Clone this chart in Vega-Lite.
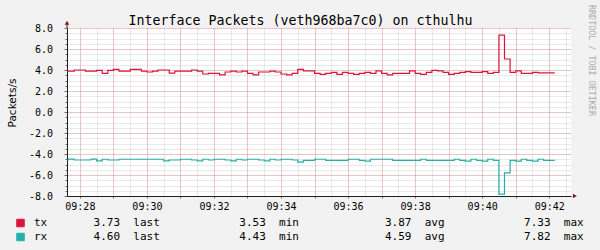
{
  "$schema": "https://vega.github.io/schema/vega-lite/v6.json",
  "width": 504,
  "height": 168,
  "autosize": {"type": "none"},
  "padding": {"left": 67, "top": 28, "right": 29, "bottom": 54},
  "background": "#F2F2F2",
  "config": {"view": {"fill": "#FFFFFF", "stroke": null}},
  "data": {"values": [
    {"t": 34050, "tx": 3.90, "rx": -4.57},
    {"t": 34060, "tx": 3.90, "rx": -4.48},
    {"t": 34070, "tx": 4.00, "rx": -4.57},
    {"t": 34080, "tx": 4.00, "rx": -4.57},
    {"t": 34090, "tx": 3.90, "rx": -4.57},
    {"t": 34100, "tx": 3.90, "rx": -4.48},
    {"t": 34110, "tx": 3.97, "rx": -4.65},
    {"t": 34120, "tx": 3.68, "rx": -4.50},
    {"t": 34130, "tx": 3.97, "rx": -4.57},
    {"t": 34140, "tx": 4.06, "rx": -4.57},
    {"t": 34150, "tx": 3.90, "rx": -4.50},
    {"t": 34160, "tx": 3.90, "rx": -4.50},
    {"t": 34170, "tx": 4.06, "rx": -4.50},
    {"t": 34180, "tx": 4.06, "rx": -4.50},
    {"t": 34190, "tx": 3.90, "rx": -4.50},
    {"t": 34200, "tx": 3.81, "rx": -4.50},
    {"t": 34210, "tx": 3.90, "rx": -4.50},
    {"t": 34220, "tx": 4.00, "rx": -4.50},
    {"t": 34230, "tx": 4.00, "rx": -4.65},
    {"t": 34240, "tx": 3.70, "rx": -4.57},
    {"t": 34250, "tx": 3.90, "rx": -4.57},
    {"t": 34260, "tx": 3.90, "rx": -4.50},
    {"t": 34270, "tx": 3.90, "rx": -4.50},
    {"t": 34280, "tx": 4.00, "rx": -4.57},
    {"t": 34290, "tx": 3.90, "rx": -4.65},
    {"t": 34300, "tx": 3.62, "rx": -4.50},
    {"t": 34310, "tx": 3.68, "rx": -4.57},
    {"t": 34320, "tx": 3.68, "rx": -4.50},
    {"t": 34330, "tx": 3.53, "rx": -4.50},
    {"t": 34340, "tx": 3.81, "rx": -4.57},
    {"t": 34350, "tx": 3.90, "rx": -4.65},
    {"t": 34360, "tx": 3.81, "rx": -4.50},
    {"t": 34370, "tx": 3.90, "rx": -4.57},
    {"t": 34380, "tx": 3.68, "rx": -4.50},
    {"t": 34390, "tx": 3.53, "rx": -4.50},
    {"t": 34400, "tx": 3.81, "rx": -4.57},
    {"t": 34410, "tx": 3.81, "rx": -4.65},
    {"t": 34420, "tx": 3.90, "rx": -4.50},
    {"t": 34430, "tx": 3.81, "rx": -4.57},
    {"t": 34440, "tx": 3.62, "rx": -4.50},
    {"t": 34450, "tx": 3.53, "rx": -4.50},
    {"t": 34460, "tx": 3.68, "rx": -4.57},
    {"t": 34470, "tx": 4.06, "rx": -4.78},
    {"t": 34480, "tx": 3.91, "rx": -4.60},
    {"t": 34490, "tx": 3.91, "rx": -4.60},
    {"t": 34500, "tx": 3.68, "rx": -4.50},
    {"t": 34510, "tx": 3.59, "rx": -4.50},
    {"t": 34520, "tx": 3.68, "rx": -4.60},
    {"t": 34530, "tx": 3.78, "rx": -4.60},
    {"t": 34540, "tx": 3.59, "rx": -4.60},
    {"t": 34550, "tx": 3.78, "rx": -4.60},
    {"t": 34560, "tx": 3.68, "rx": -4.50},
    {"t": 34570, "tx": 3.59, "rx": -4.50},
    {"t": 34580, "tx": 3.68, "rx": -4.60},
    {"t": 34590, "tx": 3.78, "rx": -4.68},
    {"t": 34600, "tx": 3.68, "rx": -4.50},
    {"t": 34610, "tx": 3.91, "rx": -4.50},
    {"t": 34620, "tx": 3.68, "rx": -4.50},
    {"t": 34630, "tx": 3.53, "rx": -4.50},
    {"t": 34640, "tx": 3.68, "rx": -4.60},
    {"t": 34650, "tx": 3.68, "rx": -4.60},
    {"t": 34660, "tx": 3.68, "rx": -4.60},
    {"t": 34670, "tx": 3.91, "rx": -4.60},
    {"t": 34680, "tx": 3.68, "rx": -4.60},
    {"t": 34690, "tx": 3.59, "rx": -4.50},
    {"t": 34700, "tx": 3.78, "rx": -4.60},
    {"t": 34710, "tx": 3.97, "rx": -4.60},
    {"t": 34720, "tx": 3.91, "rx": -4.60},
    {"t": 34730, "tx": 3.78, "rx": -4.60},
    {"t": 34740, "tx": 3.59, "rx": -4.60},
    {"t": 34750, "tx": 3.68, "rx": -4.50},
    {"t": 34760, "tx": 3.78, "rx": -4.60},
    {"t": 34770, "tx": 3.85, "rx": -4.68},
    {"t": 34780, "tx": 3.78, "rx": -4.50},
    {"t": 34790, "tx": 3.78, "rx": -4.60},
    {"t": 34800, "tx": 3.85, "rx": -4.68},
    {"t": 34810, "tx": 3.68, "rx": -4.50},
    {"t": 34820, "tx": 3.78, "rx": -4.60},
    {"t": 34830, "tx": 7.33, "rx": -7.82},
    {"t": 34840, "tx": 5.05, "rx": -5.80},
    {"t": 34850, "tx": 3.78, "rx": -4.60},
    {"t": 34860, "tx": 3.91, "rx": -4.68},
    {"t": 34870, "tx": 3.68, "rx": -4.50},
    {"t": 34880, "tx": 3.68, "rx": -4.60},
    {"t": 34890, "tx": 3.78, "rx": -4.68},
    {"t": 34900, "tx": 3.73, "rx": -4.50},
    {"t": 34910, "tx": 3.73, "rx": -4.60},
    {"t": 34920, "tx": 3.73, "rx": -4.60},
    {"t": 34930, "tx": 3.73, "rx": -4.60}
  ]},
  "transform": [{"fold": ["tx", "rx"], "as": ["series", "value"]}],
  "layer": [
    {
      "mark": {"type": "line", "opacity": 0},
      "encoding": {
        "x": {"field": "t", "type": "quantitative",
              "scale": {"domain": [34057, 34959], "nice": false, "zero": false},
              "axis": {"orient": "bottom", "values": [34080, 34110, 34140, 34170, 34200, 34230, 34260, 34290, 34320, 34350, 34380, 34410, 34440, 34470, 34500, 34530, 34560, 34590, 34620, 34650, 34680, 34710, 34740, 34770, 34800, 34830, 34860, 34890, 34920, 34950], "grid": true, "gridColor": "#A8A8A8", "gridOpacity": 0.5, "gridDash": [1, 1], "gridWidth": 1, "labels": false, "ticks": false, "domain": false, "title": null}},
        "y": {"field": "value", "type": "quantitative",
              "scale": {"domain": [-8, 8], "nice": false, "zero": false},
              "axis": {"orient": "left", "values": [-8, -7.5, -7, -6.5, -6, -5.5, -5, -4.5, -4, -3.5, -3, -2.5, -2, -1.5, -1, -0.5, 0, 0.5, 1, 1.5, 2, 2.5, 3, 3.5, 4, 4.5, 5, 5.5, 6, 6.5, 7, 7.5, 8], "grid": true, "gridColor": "#A8A8A8", "gridOpacity": 0.5, "gridDash": [1, 1], "labels": false, "ticks": true, "tickSize": 2, "tickColor": "#707070", "domain": false, "title": null}},
        "detail": {"field": "series"}
      }
    },
    {
      "mark": {"type": "line", "opacity": 0},
      "encoding": {
        "x": {"field": "t", "type": "quantitative",
              "axis": {"orient": "bottom", "values": [34080, 34140, 34200, 34260, 34320, 34380, 34440, 34500, 34560, 34620, 34680, 34740, 34800, 34860, 34920], "grid": true, "gridColor": "#E66A6A", "gridOpacity": 0.55, "gridDash": [1, 1], "labels": false, "ticks": true, "tickSize": 2, "tickColor": "#707070", "domain": false, "title": null}},
        "y": {"field": "value", "type": "quantitative",
              "axis": {"orient": "left", "values": [-8, -6, -4, -2, 0, 2, 4, 6, 8], "grid": true, "gridColor": "#E66A6A", "gridOpacity": 0.55, "gridDash": [1, 1], "labels": false, "ticks": true, "tickSize": 3, "tickColor": "#707070", "domain": false, "title": null}},
        "detail": {"field": "series"}
      }
    },
    {
      "mark": {"type": "line", "interpolate": "step-after", "strokeWidth": 1.2, "clip": true},
      "encoding": {
        "x": {"field": "t", "type": "quantitative",
              "axis": {"orient": "bottom", "values": [34080, 34200, 34320, 34440, 34560, 34680, 34800, 34920], "labelExpr": "utcFormat(datum.value * 1000, '%H:%M')", "grid": false, "ticks": false, "domain": true, "domainColor": "#1F1F1F", "domainWidth": 1, "labelFont": "DejaVu Sans Mono", "labelFontSize": 10, "labelColor": "#000000", "labelPadding": 5, "labelFlush": false, "labelOverlap": false, "title": null}},
        "y": {"field": "value", "type": "quantitative",
              "axis": {"orient": "left", "values": [-8, -6, -4, -2, 0, 2, 4, 6, 8], "labelExpr": "(datum.value < 0 ? '-' : '') + format(abs(datum.value), '.1f')", "grid": false, "ticks": false, "domain": true, "domainColor": "#1F1F1F", "labelFont": "DejaVu Sans Mono", "labelFontSize": 10, "labelColor": "#000000", "labelPadding": 14.5, "labelFlush": false, "labelOverlap": false,
                       "title": "Packets/s", "titleFont": "DejaVu Sans", "titleFontSize": 10.5, "titleFontWeight": "normal", "titleColor": "#000000", "titleAngle": -90, "titleX": -55, "titleY": 74.5, "titleAlign": "center", "titleBaseline": "middle"}},
        "color": {"field": "series", "type": "nominal",
                  "scale": {"domain": ["tx", "rx"], "range": ["#DC143C", "#20B2AA"]},
                  "legend": {"orient": "none", "legendX": -52, "legendY": 189.5, "title": null, "direction": "vertical",
                             "symbolType": "square", "symbolSize": 56, "symbolStrokeColor": "#000000", "symbolStrokeWidth": 1,
                             "labelFont": "DejaVu Sans Mono", "labelFontSize": 11, "labelColor": "#000000", "labelLimit": 700, "labelOffset": 8, "rowPadding": 1,
                             "labelExpr": "datum.label == 'tx' ? 'tx\u00a0\u00a0\u00a0\u00a0\u00a0\u00a0\u00a03.73\u00a0\u00a0last\u00a0\u00a0\u00a0\u00a0\u00a0\u00a0\u00a0\u00a0\u00a0\u00a0\u00a0\u00a03.53\u00a0\u00a0min\u00a0\u00a0\u00a0\u00a0\u00a0\u00a0\u00a0\u00a0\u00a0\u00a0\u00a0\u00a0\u00a03.87\u00a0\u00a0avg\u00a0\u00a0\u00a0\u00a0\u00a0\u00a0\u00a0\u00a0\u00a0\u00a0\u00a0\u00a07.33\u00a0\u00a0max' : 'rx\u00a0\u00a0\u00a0\u00a0\u00a0\u00a0\u00a04.60\u00a0\u00a0last\u00a0\u00a0\u00a0\u00a0\u00a0\u00a0\u00a0\u00a0\u00a0\u00a0\u00a0\u00a04.43\u00a0\u00a0min\u00a0\u00a0\u00a0\u00a0\u00a0\u00a0\u00a0\u00a0\u00a0\u00a0\u00a0\u00a0\u00a04.59\u00a0\u00a0avg\u00a0\u00a0\u00a0\u00a0\u00a0\u00a0\u00a0\u00a0\u00a0\u00a0\u00a0\u00a07.82\u00a0\u00a0max'",
                             "encode": {"symbols": {"update": {"fill": {"scale": "color", "field": "value"}, "fillOpacity": {"value": 1}, "stroke": {"value": "#000000"}, "strokeWidth": {"value": 1}}}}}
        }
      }
    },
    {
      "mark": {"type": "line", "opacity": 0},
      "encoding": {
        "x": {"field": "t", "type": "quantitative",
              "axis": {"orient": "top", "labels": false, "ticks": false, "domain": false, "grid": false,
                       "title": "Interface Packets (veth968ba7c0) on cthulhu", "titleFont": "DejaVu Sans Mono", "titleFontSize": 13.3, "titleFontWeight": "normal", "titleColor": "#000000", "titleX": 233, "titleY": -3.5, "titleAlign": "center", "titleBaseline": "alphabetic", "titleAngle": 0}},
        "y": {"field": "value", "type": "quantitative",
              "axis": {"orient": "right", "labels": false, "ticks": false, "domain": false, "grid": false,
                       "title": "RRDTOOL / TOBI OETIKER", "titleFont": "DejaVu Sans Mono", "titleFontSize": 8.4, "titleFontWeight": "normal", "titleColor": "#ABABAB", "titleAngle": 90, "titleX": 20.5, "titleY": 32, "titleAlign": "center", "titleBaseline": "middle"}},
        "detail": {"field": "series"}
      }
    },
    {
      "data": {"values": [{"x": 34057, "y": 8.0, "y2": 8.45}]},
      "mark": {"type": "rule", "color": "#1F1F1F", "strokeWidth": 1, "clip": false},
      "encoding": {
        "x": {"field": "x", "type": "quantitative", "axis": null},
        "y": {"field": "y", "type": "quantitative", "axis": null},
        "y2": {"field": "y2"}
      }
    },
    {
      "data": {"values": [{"x": 34057, "y": 8.5, "shape": "triangle-up"}, {"x": 34966, "y": -8.0, "shape": "triangle-right"}]},
      "mark": {"type": "point", "filled": true, "color": "#7F1F1F", "opacity": 1, "size": 22, "clip": false},
      "encoding": {
        "x": {"field": "x", "type": "quantitative", "axis": null},
        "y": {"field": "y", "type": "quantitative", "axis": null},
        "shape": {"field": "shape", "type": "nominal", "scale": null, "legend": null}
      }
    }
  ],
  "resolve": {"axis": {"x": "independent", "y": "independent"}}
}
